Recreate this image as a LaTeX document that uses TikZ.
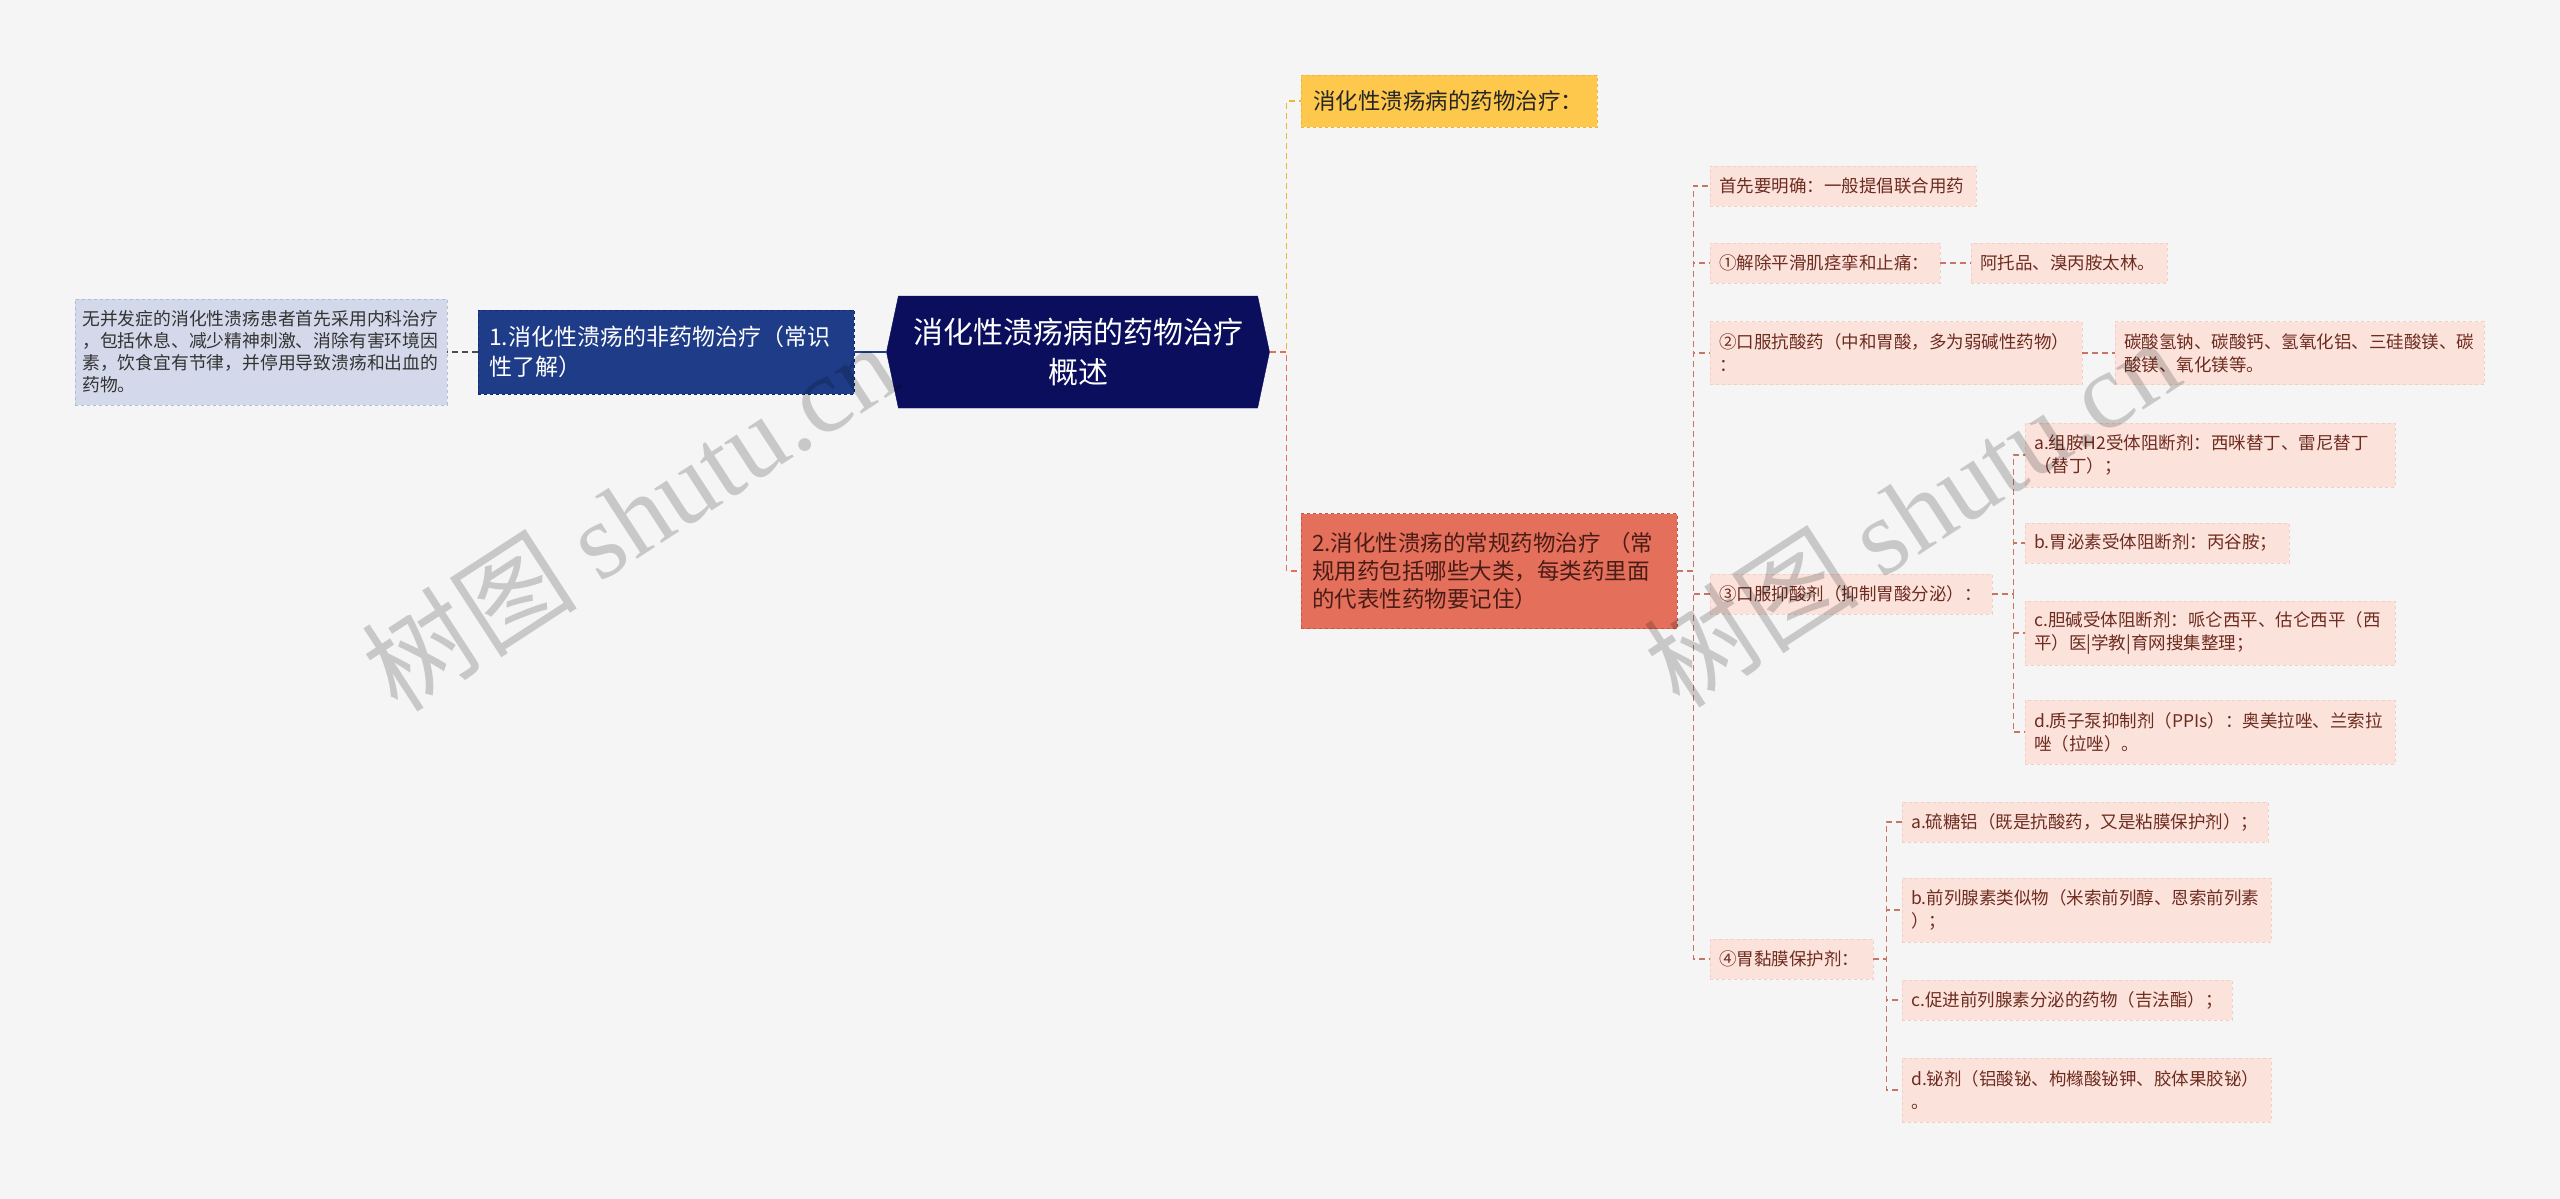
\documentclass[tikz,border=0pt]{standalone}
\usepackage{fontspec}
\setmainfont{Noto Sans CJK SC}
\newfontfamily\markfont{Liberation Serif}
\usetikzlibrary{shapes.symbols}
\definecolor{bg}{HTML}{F5F5F5}
\definecolor{rootfill}{HTML}{0B0E5C}
\definecolor{onefill}{HTML}{1F3C88}
\definecolor{oneline}{HTML}{0F2A6E}
\definecolor{notefill}{HTML}{D3D9EA}
\definecolor{noteline}{HTML}{B4BCD2}
\definecolor{yelfill}{HTML}{FDC84B}
\definecolor{yelline}{HTML}{F0B43A}
\definecolor{twofill}{HTML}{E4705C}
\definecolor{twoline}{HTML}{C95443}
\definecolor{twotext}{HTML}{4A1C16}
\definecolor{leaffill}{HTML}{FBE3DC}
\definecolor{leafline}{HTML}{F2CFC5}
\definecolor{leaftext}{HTML}{6E2B1F}
\definecolor{redlink}{HTML}{C97566}
\tikzstyle{leaf}=[fill=leaffill, draw=leafline, dashed, text=leaftext, anchor=west, align=left,
  inner xsep=9pt, inner ysep=0pt, minimum height=40pt, font=\fontsize{17.5}{23}\selectfont]
\tikzstyle{rlink}=[redlink, line width=1.5pt, dash pattern=on 6pt off 4pt]

\begin{document}
\begin{tikzpicture}[x=1pt, y=-1pt]
\useasboundingbox (0,0) rectangle (2560,1199);
\fill[bg] (0,0) rectangle (2560,1199);
% Root and first level
    \node[shape=signal, signal to=east and west, signal pointer angle=156, fill=rootfill, draw=rootfill,
      minimum width=383pt, minimum height=112pt, inner sep=0pt, text=white, align=center,
      font=\fontsize{30}{40}\selectfont] (root) at (1078,352) {消化性溃疡病的药物治疗\\概述};
    \node[fill=onefill, draw=oneline, dashed, text=white, anchor=west, align=left, text width=354pt,
      inner xsep=11pt, minimum height=84pt, font=\fontsize{23}{30}\selectfont]
      (one) at (478,352) {1.消化性溃疡的非药物治疗（常识\\性了解）};
    \node[fill=notefill, draw=noteline, dashed, text=black!80, anchor=west, align=left, text width=358pt,
      inner xsep=7pt, minimum height=106pt, font=\fontsize{17.8}{22}\selectfont]
      (note) at (75,352) {无并发症的消化性溃疡患者首先采用内科治疗\\，包括休息、减少精神刺激、消除有害环境因\\素，饮食宜有节律，并停用导致溃疡和出血的\\药物。};
    \node[fill=yelfill, draw=yelline, dashed, text=black!85, anchor=west, align=left, text width=272pt,
      inner xsep=12pt, minimum height=52pt, font=\fontsize{22.5}{28}\selectfont]
      (yel) at (1301,101) {消化性溃疡病的药物治疗：};
    \node[fill=twofill, draw=twoline, dashed, text=twotext, anchor=west, align=left, text width=354pt,
      inner xsep=11pt, minimum height=115pt, font=\fontsize{22.5}{28}\selectfont]
      (two) at (1301,571) {2.消化性溃疡的常规药物治疗 （常\\规用药包括哪些大类，每类药里面\\的代表性药物要记住）};
% Second level
    \node[leaf, text width=248pt] (c0) at (1710,186) {首先要明确：一般提倡联合用药};
    \node[leaf, text width=212pt] (c1) at (1710,263) {①解除平滑肌痉挛和止痛：};
    \node[leaf, text width=178pt] (c1r) at (1971,263) {阿托品、溴丙胺太林。};
    \node[leaf, text width=354pt, minimum height=63pt] (c2) at (1710,353) {②口服抗酸药（中和胃酸，多为弱碱性药物）\\：};
    \node[leaf, text width=351pt, minimum height=63pt] (c2r) at (2115,353) {碳酸氢钠、碳酸钙、氢氧化铝、三硅酸镁、碳\\酸镁、氧化镁等。};
    \node[leaf, text width=264pt] (c3) at (1710,594) {③口服抑酸剂（抑制胃酸分泌）：};
    \node[leaf, text width=145pt] (c4) at (1710,959) {④胃黏膜保护剂：};
% Third level
    \node[leaf, text width=352pt, minimum height=64pt] (c3a) at (2025,455) {a.组胺H2受体阻断剂：西咪替丁、雷尼替丁\\（替丁）；};
    \node[leaf, text width=246pt] (c3b) at (2025,543) {b.胃泌素受体阻断剂：丙谷胺；};
    \node[leaf, text width=352pt, minimum height=64pt] (c3c) at (2025,633) {c.胆碱受体阻断剂：哌仑西平、估仑西平（西\\平）医|学教|育网搜集整理；};
    \node[leaf, text width=352pt, minimum height=64pt] (c3d) at (2025,732) {d.质子泵抑制剂（PPIs）：奥美拉唑、兰索拉\\唑（拉唑）。};
    \node[leaf, text width=348pt] (c4a) at (1902,822) {a.硫糖铝（既是抗酸药，又是粘膜保护剂）；};
    \node[leaf, text width=351pt, minimum height=64pt] (c4b) at (1902,910) {b.前列腺素类似物（米索前列醇、恩索前列素\\）；};
    \node[leaf, text width=312pt] (c4c) at (1902,1000) {c.促进前列腺素分泌的药物（吉法酯）；};
    \node[leaf, text width=351pt, minimum height=64pt] (c4d) at (1902,1090) {d.铋剂（铝酸铋、枸橼酸铋钾、胶体果胶铋）\\。};
% Links
    \draw[yelline, line width=1.5pt, dash pattern=on 6pt off 4pt] (root.east) -- ++(17,0) |- (yel.west);
    \draw[twofill, line width=1.5pt, dash pattern=on 6pt off 4pt] (root.east) -- ++(17,0) |- (two.west);
    \draw[onefill, line width=2pt] (root.west) -- (one.east);
    \draw[black!70, line width=1.5pt, dash pattern=on 6pt off 4pt] (one.west) -- (note.east);
    \draw[rlink] (two.east) -- ++(16,0) |- (c0.west);
    \draw[rlink] (two.east) -- ++(16,0) |- (c1.west);
    \draw[rlink] (two.east) -- ++(16,0) |- (c2.west);
    \draw[rlink] (two.east) -- ++(16,0) |- (c3.west);
    \draw[rlink] (two.east) -- ++(16,0) |- (c4.west);
    \draw[rlink] (c1.east) -- (c1r.west);
    \draw[rlink] (c2.east) -- (c2r.west);
    \draw[rlink] (c3.east) -- ++(21,0) |- (c3a.west);
    \draw[rlink] (c3.east) -- ++(21,0) |- (c3b.west);
    \draw[rlink] (c3.east) -- ++(21,0) |- (c3c.west);
    \draw[rlink] (c3.east) -- ++(21,0) |- (c3d.west);
    \draw[rlink] (c4.east) -- ++(13,0) |- (c4a.west);
    \draw[rlink] (c4.east) -- ++(13,0) |- (c4b.west);
    \draw[rlink] (c4.east) -- ++(13,0) |- (c4c.west);
    \draw[rlink] (c4.east) -- ++(13,0) |- (c4d.west);
% Watermark
    \node[rotate=33, text=black, text opacity=0.18, font=\fontsize{108}{108}\selectfont] (wm1) at (629,516) {树图 {\markfont shutu.cn}};
    \node[rotate=33, text=black, text opacity=0.18, font=\fontsize{108}{108}\selectfont] (wm2) at (1911,512) {树图 {\markfont shutu.cn}};
\end{tikzpicture}
\end{document}
